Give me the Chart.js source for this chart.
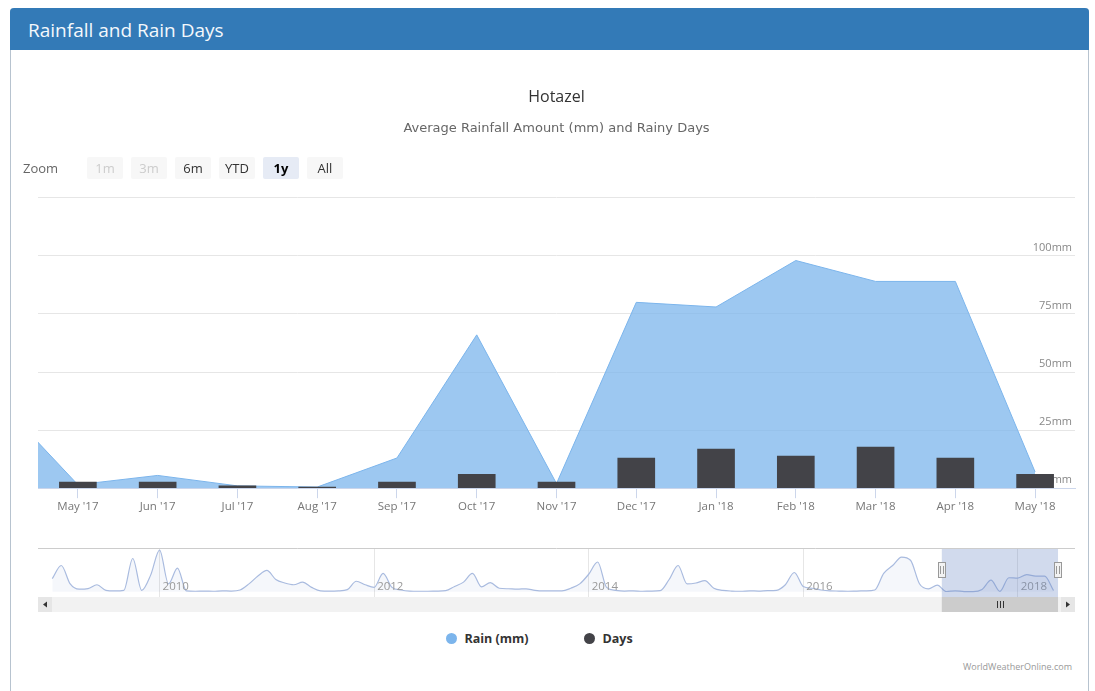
<!DOCTYPE html>
<html>
<head>
<meta charset="utf-8">
<title>Rainfall and Rain Days</title>
<script src="https://cdn.jsdelivr.net/npm/chart.js@4.4.0/dist/chart.umd.min.js"></script>
<style>
  body { margin: 0; background: #fff; font-family: 'Open Sans', sans-serif; }
  #page { position: relative; width: 1095px; height: 691px; overflow: hidden; }
  .panel { position: absolute; left: 10px; top: 8px; width: 1077px; height: 720px;
           border: 1px solid #b7c3cf; border-top: none; border-radius: 4px 4px 0 0; }
  .panel-heading { position: absolute; left: 10px; top: 8px; width: 1079px; height: 42px;
                   background: #337ab7; color: #f4f8fc; font-size: 19px; line-height: 44px;
                   padding-left: 18px; box-sizing: border-box; border-radius: 4px 4px 0 0; }
  canvas { position: absolute; left: 0; }
  #rangeSel { position: absolute; left: 23px; top: 157px; height: 22px; font-size: 13px; }
  #rangeSel span { position: absolute; top: 0; line-height: 22px; white-space: nowrap; }
  #rangeSel .btn { width: 36px; height: 22px; text-align: center; background: #f7f7f7;
                   color: #333; border-radius: 2px; }
  #rangeSel .btn.off { color: #cccccc; }
  #rangeSel .btn.on { background: #e6ebf5; color: #000; font-weight: bold; }
  #legend { position: absolute; left: 0; top: 630px; width: 1079px; text-align: center;
            font-size: 12.5px; font-weight: bold; color: #333; }
  #legend .item { display: inline-block; margin: 0 28px; }
  #legend .dot { display: inline-block; width: 11px; height: 11px; border-radius: 50%;
                 margin-right: 7px; vertical-align: -1px; }
  #credits { position: absolute; right: 23px; top: 660px; font-size: 9px; color: #999; }
</style>
</head>
<body>
<div id="page">
  <div class="panel"></div>
  <div class="panel-heading">Rainfall and Rain Days</div>
  <canvas id="mainChart" width="1095" height="460" style="top:60px"></canvas>
  <div id="rangeSel"></div>
  <canvas id="navChart" width="1095" height="70" style="top:546px"></canvas>
  <div id="legend"></div>
  <div id="credits">WorldWeatherOnline.com</div>
</div>
<script>
// months shown in the main chart (x = 0 is May '17)
const monthLabels = ["May '17", "Jun '17", "Jul '17", "Aug '17", "Sep '17", "Oct '17", "Nov '17",
                     "Dec '17", "Jan '18", "Feb '18", "Mar '18", "Apr '18", "May '18"];
const rainMm   = [1.5, 5.5, 1, 0.5, 13, 66, 2, 80, 78, 98, 89, 89, 7];
const rainDays = [2.6, 2.6, 1, 0.5, 2.6, 6, 2.6, 13, 16.8, 13.8, 17.7, 13, 6];

// monthly rain Jan 2009 .. Apr 2017, read from the navigator strip
const historyRain = [
  75, 150, 45, 15, 18, 40, 8, 5, 8, 190, 8, 95,        // 2009
  238, 45, 135, 5, 3, 4, 3, 5, 4, 10, 45, 90,          // 2010
  122, 70, 50, 40, 55, 25, 5, 4, 5, 12, 60, 40,        // 2011
  25, 105, 25, 10, 4, 3, 3, 4, 6, 30, 55, 105,         // 2012
  28, 52, 20, 17, 15, 17, 8, 5, 5, 5, 20, 45,          // 2013
  100, 170, 25, 8, 4, 5, 3, 4, 6, 70, 150, 45,         // 2014
  50, 64, 20, 8, 4, 3, 5, 4, 6, 8, 40, 110,            // 2015
  30, 20, 10, 5, 4, 3, 4, 5, 10, 105, 150, 198,        // 2016
  180, 46, 17, 38                                      // 2017 Jan-Apr
];
const navYears = [2010, 2012, 2014, 2016, 2018];
const yTicks = [0, 25, 50, 75, 100, 125];

const zoomButtons = ['1m', '3m', '6m', 'YTD', '1y', 'All'];
const zoomDisabled = ['1m', '3m'];
const zoomSelected = '1y';

const rainColor = '#7cb5ec';
const daysColor = '#434348';
const viewMin = -0.5, viewMax = monthLabels.length - 0.5;
const histStart = -historyRain.length;           // x of Jan 2009
const yearToX = y => (y - 2009) * 12 + histStart;

// main chart: rain area (including the Apr '17 point that sits off the left edge) + rainy-day bars
const rainPoints = [{ x: -1, y: historyRain[historyRain.length - 1] }]
  .concat(rainMm.map((v, i) => ({ x: i, y: v })));
const dayPoints = rainDays.map((v, i) => ({ x: i, y: v }));

const mainChart = new Chart(document.getElementById('mainChart'), {
  data: {
    datasets: [
      {
        type: 'bar', label: 'Days', data: dayPoints, order: 1,
        backgroundColor: daysColor, barThickness: 37, borderWidth: 0
      },
      {
        type: 'line', label: 'Rain (mm)', data: rainPoints, order: 2,
        fill: 'origin', backgroundColor: 'rgba(124,181,236,0.75)', borderColor: rainColor,
        borderWidth: 1, pointRadius: 0, tension: 0
      }
    ]
  },
  options: {
    responsive: false,
    animation: false,
    layout: { padding: { left: 38, right: 20, top: 0, bottom: 4 } },
    plugins: {
      legend: { display: false },
      tooltip: { enabled: false },
      title: {
        display: true, text: 'Hotazel', color: '#333',
        font: { family: 'Open Sans', size: 16, weight: 'normal' },
        padding: { top: 28, bottom: 14 }
      },
      subtitle: {
        display: true, text: 'Average Rainfall Amount (mm) and Rainy Days', color: '#666',
        font: { family: 'DejaVu Sans', size: 13 },
        padding: { top: 0, bottom: 61 }
      }
    },
    scales: {
      x: {
        type: 'linear', min: viewMin, max: viewMax, offset: false,
        afterBuildTicks: s => { s.ticks = monthLabels.map((_, i) => ({ value: i })); },
        ticks: {
          callback: v => monthLabels[v], color: '#777', padding: 2,
          font: { family: 'Open Sans', size: 11.5 }, maxRotation: 0, autoSkip: false
        },
        grid: { offset: false, drawOnChartArea: false, tickLength: 10, color: '#ccd6eb' },
        border: { color: '#ccd6eb' }
      },
      y: {
        position: 'right', min: 0, max: 125,
        afterBuildTicks: s => { s.ticks = yTicks.map(v => ({ value: v })); },
        ticks: {
          mirror: true, padding: -3, labelOffset: -8, color: '#888',
          font: { family: 'Open Sans', size: 11 },
          callback: v => v === 125 ? '' : v + 'mm'
        },
        grid: { color: '#e6e6e6', drawTicks: false },
        border: { display: false }
      }
    }
  }
});

// range selector
const rangeSel = document.getElementById('rangeSel');
rangeSel.innerHTML = '<span style="left:0;color:#666">Zoom</span>' + zoomButtons.map((b, i) => {
  const cls = zoomDisabled.includes(b) ? 'off' : (b === zoomSelected ? 'on' : '');
  return `<span class="btn ${cls}" style="left:${64 + i * 44}px">${b}</span>`;
}).join('');

// navigator
const navPoints = historyRain.concat(rainMm).map((v, i) => ({ x: histStart + i, y: v }));

const navExtras = {
  id: 'navExtras',
  afterDraw(chart) {
    const { ctx, chartArea: a, scales: { x } } = chart;
    ctx.save();
    // year labels
    ctx.font = '11.5px "Open Sans"';
    ctx.fillStyle = '#999';
    ctx.textBaseline = 'middle';
    navYears.forEach(y => ctx.fillText(String(y), x.getPixelForValue(yearToX(y)) + 3, a.bottom - 10));
    // top outline
    ctx.strokeStyle = '#cccccc';
    ctx.lineWidth = 1;
    ctx.beginPath(); ctx.moveTo(a.left, a.top + 0.5); ctx.lineTo(a.right, a.top + 0.5); ctx.stroke();
    // selected range mask
    const m0 = x.getPixelForValue(viewMin), m1 = x.getPixelForValue(viewMax);
    ctx.fillStyle = 'rgba(102,133,194,0.3)';
    ctx.fillRect(m0, a.top + 1, m1 - m0, a.bottom - a.top - 1);
    // handles
    [m0, m1].forEach(hx => {
      const hy = a.top + 14;
      ctx.fillStyle = '#f2f2f2'; ctx.strokeStyle = '#999';
      ctx.fillRect(Math.round(hx) - 3.5, hy, 7, 15);
      ctx.strokeRect(Math.round(hx) - 3.5, hy + 0.5, 7, 15);
      ctx.beginPath();
      ctx.moveTo(Math.round(hx) - 1.5, hy + 4); ctx.lineTo(Math.round(hx) - 1.5, hy + 12);
      ctx.moveTo(Math.round(hx) + 1.5, hy + 4); ctx.lineTo(Math.round(hx) + 1.5, hy + 12);
      ctx.stroke();
    });
    // scrollbar
    const sy = a.bottom, sh = 15;
    ctx.fillStyle = '#f2f2f2';
    ctx.fillRect(a.left, sy, a.right - a.left, sh);
    ctx.fillStyle = '#e6e6e6';
    ctx.fillRect(a.left, sy, 14, sh);
    ctx.fillRect(a.right - 14, sy, 14, sh);
    ctx.fillStyle = '#cccccc';
    ctx.fillRect(m0, sy, m1 - m0, sh);
    ctx.fillStyle = '#333';
    ctx.beginPath();
    ctx.moveTo(a.left + 5, sy + 7.5); ctx.lineTo(a.left + 9, sy + 4.5); ctx.lineTo(a.left + 9, sy + 10.5); ctx.fill();
    ctx.beginPath();
    ctx.moveTo(a.right - 5, sy + 7.5); ctx.lineTo(a.right - 9, sy + 4.5); ctx.lineTo(a.right - 9, sy + 10.5); ctx.fill();
    ctx.strokeStyle = '#333';
    const gx = Math.round((m0 + m1) / 2) + 0.5;
    ctx.beginPath();
    [-3, 0, 3].forEach(d => { ctx.moveTo(gx + d, sy + 4); ctx.lineTo(gx + d, sy + 11); });
    ctx.stroke();
    ctx.restore();
  }
};

new Chart(document.getElementById('navChart'), {
  type: 'line',
  data: {
    datasets: [{
      label: 'Rain (mm)', data: navPoints,
      borderColor: '#a9bbdf', borderWidth: 1.2, backgroundColor: 'rgba(51,92,173,0.05)',
      fill: 'origin', pointRadius: 0, cubicInterpolationMode: 'monotone'
    }]
  },
  options: {
    responsive: false,
    animation: false,
    layout: { padding: { left: 38, right: 20, top: 2, bottom: 19 } },
    plugins: { legend: { display: false }, tooltip: { enabled: false } },
    scales: {
      x: {
        type: 'linear', min: histStart - 1.6, max: viewMax + 1.9,
        afterBuildTicks: s => { s.ticks = navYears.map(y => ({ value: yearToX(y) })); },
        ticks: { display: false },
        grid: { color: '#e6e6e6', drawTicks: false },
        border: { display: false }
      },
      y: { display: false, min: -30, max: 250 }
    }
  },
  plugins: [navExtras]
});

// legend from the main chart datasets
const legendOrder = ['Rain (mm)', 'Days'];
document.getElementById('legend').innerHTML = legendOrder.map(name => {
  const ds = mainChart.data.datasets.find(d => d.label === name);
  const c = ds.type === 'line' ? ds.borderColor : ds.backgroundColor;
  return `<span class="item"><span class="dot" style="background:${c}"></span>${name}</span>`;
}).join('');
</script>
</body>
</html>
